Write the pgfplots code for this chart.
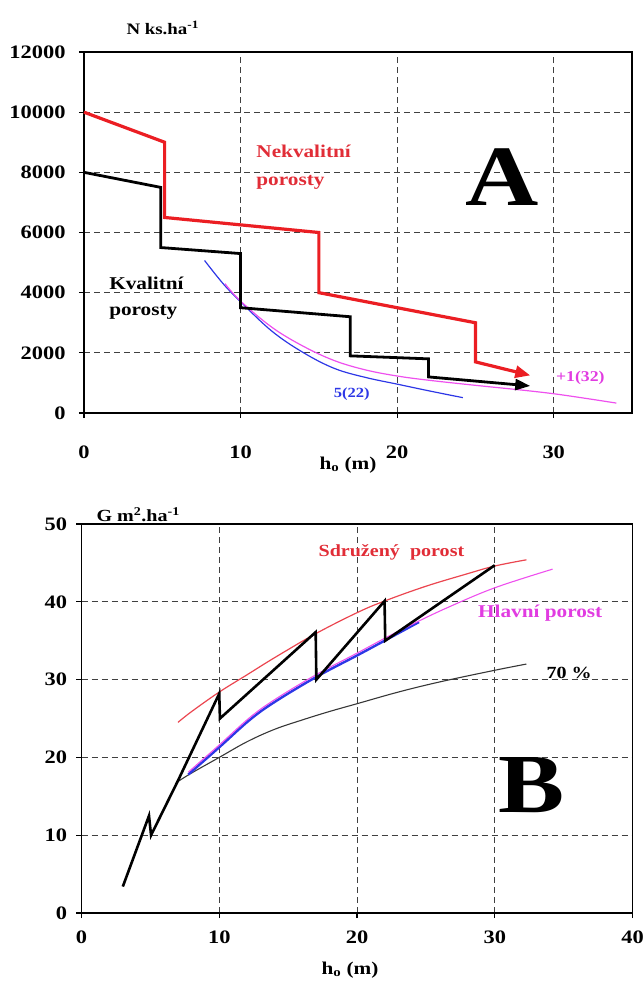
\documentclass[border=0pt]{standalone}
\usepackage{fontspec}
\setmainfont{Liberation Serif}[FakeStretch=1.18]
\usepackage{pgfplots}
\pgfplotsset{compat=1.18}
\usetikzlibrary{arrows.meta}

\definecolor{lnred}{RGB}{235,30,35}
\definecolor{txtred}{RGB}{225,45,55}
\definecolor{crvred}{RGB}{235,70,80}
\definecolor{lnblue}{RGB}{45,55,230}
\definecolor{lnmag}{RGB}{238,80,238}
\definecolor{txtmag}{RGB}{225,60,225}
\definecolor{lngray}{RGB}{55,55,55}

\pgfplotsset{
  panel/.style={
    scale only axis,
    clip=false,
    axis line style={line width=1.8pt},
    grid=major,
    major grid style={dash pattern=on 6pt off 4pt, line width=1pt, black!75},
    tick align=outside,
    xtick pos=left, ytick pos=left,
    major tick length=5pt,
    tick style={line width=1.2pt, black},
    ticklabel style={font=\fontsize{19}{22}\selectfont\bfseries},
    scaled x ticks=false, scaled y ticks=false,
    /pgf/number format/assume math mode=true,
  },
}

\begin{document}
\begin{tikzpicture}
\useasboundingbox (0,0) rectangle (644pt,-982pt);

% ---------- A ----------
\begin{axis}[panel, at={(84pt,-413pt)}, anchor=south west,
  width=548pt, height=361pt,
  xmin=0, xmax=35, ymin=0, ymax=12000,
  xtick={0,10,20,30}, xticklabels={0,10,20,30},
  ytick={0,2000,4000,6000,8000,10000,12000},
  yticklabels={0,2000,4000,6000,8000,10000,12000},
  xticklabel style={yshift=-24pt},
  yticklabel style={xshift=-10pt},
]
% 5(22)
\addplot[lnblue, line width=1.2pt, smooth, tension=0.6] coordinates {
  (7.7,5070) (8.9,4290) (10,3700) (12,2720) (14,2010) (16,1480)
  (18,1180) (20,960) (22,740) (24.2,510)
};
% +1(32)
\addplot[lnmag, line width=1.2pt, smooth, tension=0.6] coordinates {
  (9.0,4300) (10,3720) (12,2850) (14,2220) (16,1740) (18,1430)
  (20,1230) (22,1090) (25,920) (28,760) (30,640) (32,490) (34,330)
};
% Kvalitni porosty
\addplot[black, line width=2.8pt, line join=miter,
  -{Triangle[length=15pt,width=11pt]}] coordinates {
  (0,8000) (4.9,7500) (4.9,5500) (10,5300) (10,3500) (17,3200)
  (17,1900) (22,1800) (22,1200) (28.5,900)
};
% Nekvalitni porosty
\addplot[lnred, line width=3.2pt, line join=miter,
  -{Triangle[length=15pt,width=12pt]}] coordinates {
  (0,10000) (5.15,9000) (5.15,6500) (15,6000) (15,4000) (25,3000)
  (25,1700) (28.5,1250)
};
\node[txtred, anchor=north west, inner sep=0pt, align=left,
  font=\fontsize{18}{28}\selectfont\bfseries] at (axis cs:11,8930) {Nekvalitní\\porosty};
\node[black, anchor=north west, inner sep=0pt, align=left,
  font=\fontsize{18}{26}\selectfont\bfseries] at (axis cs:1.6,4540) {Kvalitní\\porosty};
\node[lnblue, font=\fontsize{14}{16}\selectfont\bfseries] at (axis cs:17.1,630) {5(22)};
\node[txtmag, font=\fontsize{15}{17}\selectfont\bfseries] at (axis cs:31.7,1170) {+1(32)};
\node[font=\fontsize{86}{90}\selectfont\bfseries] at (axis cs:26.7,7850) {A};
\end{axis}

\node[font=\fontsize{16}{18}\selectfont\bfseries, anchor=west] at (123pt,-28pt) {N ks.ha\textsuperscript{-1}};
\node[font=\fontsize{18}{20}\selectfont\bfseries] at (348pt,-465pt) {h\textsubscript{o} (m)};

% ---------- B ----------
\begin{axis}[panel, at={(81.5pt,-913pt)}, anchor=south west,
  width=551pt, height=389pt,
  xmin=0, xmax=40, ymin=0, ymax=50,
  xtick={0,10,20,30,40}, xticklabels={0,10,20,30,40},
  ytick={0,10,20,30,40,50}, yticklabels={0,10,20,30,40,50},
  xticklabel style={yshift=-9pt},
  yticklabel style={xshift=-6pt},
]
% 70 %
\addplot[lngray, line width=1.1pt, smooth, tension=0.6] coordinates {
  (7,16.9) (8,18.0) (10,20.0) (12,22.0) (14,23.6) (16,24.8)
  (18,25.9) (20,26.9) (23,28.4) (26,29.7) (30,31.2) (32.3,32.0)
};
% blue band
\addplot[lnblue, line width=2.4pt, smooth, tension=0.6] coordinates {
  (7.75,17.8) (10,21.3) (12.2,24.8) (14,27.1) (17,30.3) (20,33.1)
  (22,35.0) (24.5,37.4)
};
% Hlavni porost
\addplot[lnmag, line width=1.1pt, smooth, tension=0.6] coordinates {
  (7.75,18.1) (10,21.6) (12.2,25.1) (14,27.4) (17,30.6) (20,33.4)
  (22,35.3) (24,37.1) (26.5,39.2) (30,41.8) (34.2,44.2)
};
% Sdruzeny porost
\addplot[crvred, line width=1.2pt, smooth, tension=0.6] coordinates {
  (7,24.5) (8,25.9) (10,28.4) (12,30.6) (14,32.8) (17,35.9)
  (20,38.6) (22,40.1) (25,42.0) (28,43.6) (30,44.6) (32.3,45.4)
};
% zigzag
\addplot[black, line width=2.6pt, line join=miter] coordinates {
  (3,3.4) (4.9,12.5) (5.05,10) (7,17) (10,28.2) (10.05,25) (17,36.1)
  (17.05,30) (22,40.1) (22.05,35) (30,44.7)
};
\node[txtred, font=\fontsize{17}{19}\selectfont\bfseries] at (axis cs:22.5,46.3) {Sdružený\ \ porost};
\node[txtmag, font=\fontsize{18}{20}\selectfont\bfseries] at (axis cs:33.3,38.5) {Hlavní porost};
\node[font=\fontsize{17}{19}\selectfont\bfseries] at (axis cs:35.4,30.8) {70 \%};
\node[font=\fontsize{84}{88}\selectfont\bfseries] at (axis cs:32.7,16.4) {B};
\end{axis}

\node[font=\fontsize{17}{19}\selectfont\bfseries, anchor=west] at (93pt,-515pt) {G m\textsuperscript{2}.ha\textsuperscript{-1}};
\node[font=\fontsize{18}{20}\selectfont\bfseries] at (350pt,-970pt) {h\textsubscript{o} (m)};
\end{tikzpicture}
\end{document}
